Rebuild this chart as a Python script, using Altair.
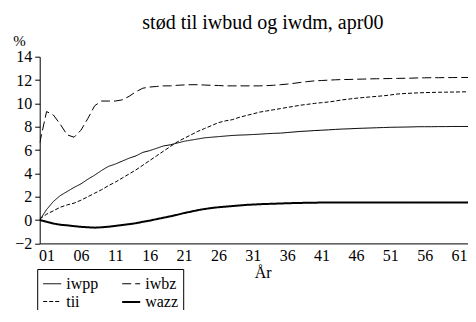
import altair as alt
import pandas as pd

years = list(range(2000, 2065))

iwpp = [0.0, 0.9, 1.6, 2.1, 2.45, 2.8, 3.1, 3.5, 3.85, 4.25, 4.6, 4.8, 5.05, 5.3, 5.5, 5.8,
        5.95, 6.15, 6.35, 6.45, 6.6, 6.75, 6.85, 6.95, 7.05, 7.1, 7.15, 7.2, 7.25, 7.28,
        7.3, 7.33, 7.36, 7.4, 7.43, 7.45, 7.5, 7.55, 7.6, 7.63, 7.67, 7.7, 7.73, 7.77,
        7.8, 7.82, 7.85, 7.87, 7.89, 7.91, 7.93, 7.95, 7.96, 7.97, 7.98, 8.0, 8.0, 8.0,
        8.01, 8.01, 8.02, 8.02, 8.02, 8.02, 8.02]

iwbz = [6.6, 9.3, 9.0, 8.2, 7.3, 7.1, 7.7, 8.7, 9.8, 10.2, 10.2, 10.2, 10.3, 10.6,
        11.0, 11.3, 11.4, 11.45, 11.5, 11.5, 11.55, 11.58, 11.6, 11.6, 11.57, 11.55,
        11.53, 11.5, 11.5, 11.5, 11.5, 11.5, 11.5, 11.52, 11.55, 11.6, 11.65, 11.72,
        11.8, 11.87, 11.93, 11.96, 11.99, 12.02, 12.04, 12.05, 12.07, 12.08, 12.1,
        12.11, 12.12, 12.13, 12.14, 12.15, 12.16, 12.18, 12.19, 12.2, 12.2, 12.21,
        12.21, 12.22, 12.22, 12.22, 12.22]

tii = [0.1, 0.5, 0.8, 1.1, 1.3, 1.45, 1.7, 2.0, 2.3, 2.6, 2.95, 3.25, 3.6, 3.95, 4.3,
       4.7, 5.1, 5.5, 5.9, 6.3, 6.7, 7.0, 7.3, 7.6, 7.85, 8.1, 8.35, 8.5, 8.6, 8.8,
       8.95, 9.1, 9.25, 9.35, 9.45, 9.55, 9.65, 9.75, 9.85, 9.92, 10.0, 10.06, 10.12,
       10.2, 10.3, 10.37, 10.44, 10.5, 10.55, 10.6, 10.65, 10.72, 10.8, 10.84, 10.87,
       10.9, 10.92, 10.94, 10.95, 10.96, 10.97, 10.98, 10.99, 11.0, 11.0]

wazz = [0.0, -0.15, -0.3, -0.4, -0.45, -0.52, -0.58, -0.62, -0.65, -0.62, -0.57, -0.5,
        -0.42, -0.35, -0.27, -0.15, -0.05, 0.08, 0.2, 0.32, 0.45, 0.6, 0.72, 0.85, 0.95,
        1.03, 1.1, 1.15, 1.2, 1.25, 1.3, 1.33, 1.36, 1.38, 1.4, 1.42, 1.44, 1.46, 1.47,
        1.48, 1.49, 1.5, 1.5, 1.5, 1.5, 1.5, 1.5, 1.5, 1.5, 1.5, 1.5, 1.5, 1.5, 1.5,
        1.5, 1.5, 1.5, 1.5, 1.5, 1.5, 1.5, 1.5, 1.5, 1.5, 1.5]

series_names = ["iwpp", "iwbz", "tii", "wazz"]
x_ticks = list(range(2001, 2062, 5))
y_ticks = list(range(-2, 15, 2))

rows = []
for name, vals in zip(series_names, [iwpp, iwbz, tii, wazz]):
    for yr, v in zip(years, vals):
        rows.append({"year": yr, "value": v, "series": name})
df = pd.DataFrame(rows)

FONT = "Liberation Serif"

legend = alt.Legend(
    title=None, orient="none", legendX=-2.5, legendY=212.3, columns=2,
    direction="horizontal",
    strokeColor="black", fillColor="white", padding=5, cornerRadius=0,
    symbolSize=324, symbolType="stroke", symbolStrokeColor="black",
    labelFont=FONT, labelFontSize=16, labelColor="black", labelOffset=4,
    columnPadding=20, rowPadding=0,
)

chart = alt.Chart(df).mark_line(color="black", clip=True).encode(
    x=alt.X("year:Q", scale=alt.Scale(domain=[2000, 2062.3], nice=False, zero=False),
            axis=alt.Axis(values=x_ticks, labelExpr="substring(toString(datum.value), 2, 4)",
                          ticks=False, grid=False, title="År", titleX=223, titleY=34,
                          titleBaseline="alphabetic", titleAlign="center",
                          titleFont=FONT, titleFontSize=16, titleFontWeight="normal",
                          labelFont=FONT, labelFontSize=16, labelColor="black",
                          labelPadding=4, domainColor="black", labelFlush=False)),
    y=alt.Y("value:Q", scale=alt.Scale(domain=[-2, 14], nice=False),
            axis=alt.Axis(values=y_ticks, grid=False, title="%", titleAngle=0,
                          titleX=-27, titleY=-11.7, titleAlign="left",
                          titleBaseline="alphabetic", titleFont=FONT, titleFontSize=15,
                          titleFontWeight="normal", labelFont=FONT, labelFontSize=16,
                          labelColor="black", tickSize=5, tickColor="black",
                          labelPadding=3, domainColor="black")),
    strokeDash=alt.StrokeDash("series:N", sort=series_names,
                              scale=alt.Scale(domain=series_names,
                                              range=[[1, 0], [9, 4], [4, 2], [1, 0]]),
                              legend=legend),
    strokeWidth=alt.StrokeWidth("series:N", sort=series_names,
                                scale=alt.Scale(type="ordinal", domain=series_names,
                                                range=[1, 1, 1, 2]),
                                legend=legend),
    order=alt.Order("year:Q"),
).properties(
    width=428.3, height=186.7,
    title=alt.Title("stød til iwbud og iwdm, apr00", font=FONT, fontSize=20,
                    fontWeight="normal", color="black", anchor="middle",
                    frame="group", dx=9, dy=23.5, baseline="alphabetic", offset=8),
    autosize=alt.AutoSizeParams(type="none"),
    padding={"left": 31.7, "top": 48.7, "right": 0, "bottom": 66.6},
).configure_view(stroke=None)

chart.save("out.html", embed_options={"renderer": "svg", "actions": False})
